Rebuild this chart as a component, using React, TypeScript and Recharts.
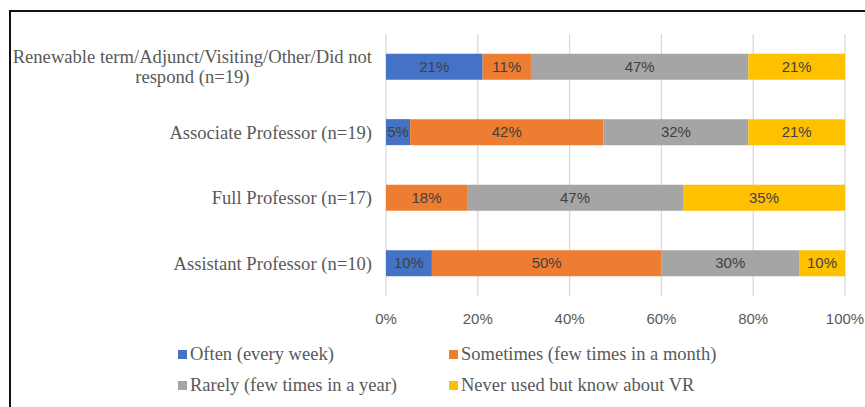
import React from "react";
import { BarChart, Bar, XAxis, YAxis, CartesianGrid, LabelList } from "recharts";

const categories = [
  "Renewable term/Adjunct/Visiting/Other/Did not respond (n=19)",
  "Associate Professor (n=19)",
  "Full Professor (n=17)",
  "Assistant Professor (n=10)",
];
const categoryLines = [
  ["Renewable term/Adjunct/Visiting/Other/Did not", "respond (n=19)"],
  ["Associate Professor (n=19)"],
  ["Full Professor (n=17)"],
  ["Assistant Professor (n=10)"],
];
const often = [21.05, 5.26, 0, 10];
const sometimes = [10.53, 42.11, 17.65, 50];
const rarely = [47.37, 31.58, 47.06, 30];
const never = [21.05, 21.05, 35.29, 10];
const xTicks = [0, 20, 40, 60, 80, 100];

const seriesNames = [
  "Often (every week)",
  "Sometimes (few times in a month)",
  "Rarely (few times in a year)",
  "Never used but know about VR",
];
const colors = ["#4472C4", "#ED7D31", "#A5A5A5", "#FFC000"];
const keys = ["often", "sometimes", "rarely", "never"];

const data = categories.map((c, i) => ({
  name: c,
  idx: i,
  often: often[i],
  sometimes: sometimes[i],
  rarely: rarely[i],
  never: never[i],
}));

const SERIF = "'Liberation Serif', 'Times New Roman', serif";
const SANS = "'Liberation Sans', Arial, sans-serif";
const LABEL_SIZE = 18.6;

let ctx: CanvasRenderingContext2D | null = null;
function measure(t: string) {
  if (!ctx) {
    const c = document.createElement("canvas");
    ctx = c.getContext("2d");
  }
  if (!ctx) return t.length * 8;
  ctx.font = `${LABEL_SIZE}px ${SERIF}`;
  return ctx.measureText(t).width;
}

const CatTick = (props: any) => {
  const { x, y, payload } = props;
  const i = categories.indexOf(payload.value);
  const lines = i >= 0 ? categoryLines[i] : [String(payload.value)];
  if (lines.length === 1) {
    return (
      <text x={x} y={y} dy="0.35em" textAnchor="end" fontFamily={SERIF} fontSize={LABEL_SIZE} fill="#595959">
        {lines[0]}
      </text>
    );
  }
  const widths = lines.map(measure);
  const maxW = Math.max(...widths);
  const cx = x - maxW / 2;
  const lh = 20;
  const start = -((lines.length - 1) * lh) / 2;
  return (
    <g>
      {lines.map((l, k) => (
        <text key={k} x={cx} y={y + start + k * lh} dy="0.35em" textAnchor="middle" fontFamily={SERIF} fontSize={LABEL_SIZE} fill="#595959">
          {l}
        </text>
      ))}
    </g>
  );
};

const fmt = (v: any) => (v && Number(v) > 0 ? `${Math.round(Number(v))}%` : "");

export default function App() {
  return (
    <div style={{ position: "absolute", left: 0, top: 0, width: 865, height: 407, overflow: "hidden", background: "#fff" }}>
      <div style={{ position: "absolute", left: 9, top: 10, width: 1000, height: 600, border: "2px solid #111", boxSizing: "border-box" }} />
      <div style={{ position: "absolute", left: 0, top: 0 }}>
        <BarChart
          width={865}
          height={407}
          data={data}
          layout="vertical"
          margin={{ top: 34, right: 20, bottom: 81, left: 0 }}
          barCategoryGap="30%"
        >
          <CartesianGrid horizontal={false} stroke="#d9d9d9" strokeWidth={1.3} />
          <XAxis
            type="number"
            domain={[0, 100]}
            ticks={xTicks}
            tickFormatter={(v) => `${v}%`}
            axisLine={false}
            tickLine={false}
            tickSize={0}
            tickMargin={17}
            height={30}
            tick={{ fontFamily: SANS, fontSize: 15, fill: "#595959" }}
            interval={0}
          />
          <YAxis
            type="category"
            dataKey="name"
            width={386}
            axisLine={false}
            tickLine={false}
            tickSize={0}
            tickMargin={14}
            tick={<CatTick />}
            interval={0}
          />
          {keys.map((k, i) => (
            <Bar key={k} dataKey={k} stackId="a" fill={colors[i]} isAnimationActive={false}>
              <LabelList dataKey={k} position="center" formatter={fmt} style={{ fontFamily: SANS, fontSize: 15, fill: "#404040" }} />
            </Bar>
          ))}
        </BarChart>
      </div>
      {seriesNames.map((n, i) => {
        const col = i % 2;
        const row = Math.floor(i / 2);
        const left = col === 0 ? 178 : 449;
        const cy = row === 0 ? 354 : 385;
        return (
          <div key={n} style={{ position: "absolute", left, top: cy - 12, height: 24, display: "flex", alignItems: "center", whiteSpace: "nowrap" }}>
            <div style={{ width: 9, height: 9, background: colors[i], marginRight: 3 }} />
            <span style={{ fontFamily: SERIF, fontSize: 18.5, color: "#595959", lineHeight: "24px" }}>{n}</span>
          </div>
        );
      })}
    </div>
  );
}
